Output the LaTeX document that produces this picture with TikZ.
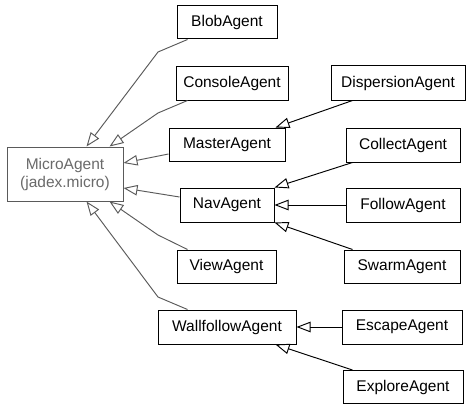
\documentclass[tikz,border=0pt]{standalone}
\usepackage{fontspec}
\setmainfont{Liberation Sans}
\usetikzlibrary{arrows.meta,calc}
\definecolor{edgegray}{HTML}{5A5A5A}
\definecolor{textgray}{HTML}{6A6A6A}
\tikzset{
  cls/.style={draw=black, line width=1pt, fill=white, inner sep=0pt,
    font=\fontsize{15.5}{18}\selectfont, text=black},
  inherit/.style={line width=0.95pt, -{Triangle[open, length=14pt, width=10.5pt]}},
  toroot/.style={inherit, draw=edgegray},
  tochild/.style={inherit, draw=black},
}
\begin{document}
\begin{tikzpicture}[x=1pt, y=-1pt]
\useasboundingbox (0,0) rectangle (466,404);
% base class
\node[cls, draw=edgegray, text=textgray, minimum width=116pt, minimum height=54pt,
  align=center] (micro) at (65,174) {MicroAgent\\(jadex.micro)};
% direct subclasses
\node[cls, minimum width=100pt, minimum height=33pt] (blob) at (227,22.5) {BlobAgent};
\node[cls, minimum width=112pt, minimum height=33pt] (console) at (232,83.5) {ConsoleAgent};
\node[cls, minimum width=116pt, minimum height=33pt] (master) at (227,144.5) {MasterAgent};
\node[cls, minimum width=94pt, minimum height=34pt] (nav) at (227,205) {NavAgent};
\node[cls, minimum width=99pt, minimum height=33pt] (view) at (226.5,266.5) {ViewAgent};
\node[cls, minimum width=138pt, minimum height=34pt] (wall) at (227,327) {WallfollowAgent};
% second level
\node[cls, minimum width=134pt, minimum height=34pt] (disp) at (398,83) {DispersionAgent};
\node[cls, minimum width=114pt, minimum height=34pt] (collect) at (403,145) {CollectAgent};
\node[cls, minimum width=114pt, minimum height=34pt] (follow) at (403,205) {FollowAgent};
\node[cls, minimum width=116pt, minimum height=33pt] (swarm) at (402,266.5) {SwarmAgent};
\node[cls, minimum width=120pt, minimum height=34pt] (escape) at (402,327) {EscapeAgent};
\node[cls, minimum width=120pt, minimum height=33pt] (explore) at (403,387) {ExploreAgent};
% bend points
\coordinate (bblob) at (158,52);
\coordinate (bconsole) at (158,113);
\coordinate (bview) at (158,235);
\coordinate (bwall) at (158,297);
% inheritance from MicroAgent
\draw[toroot] ($(blob.south west)+(11,0)$) -- (bblob) -- ($(micro.north west)+(80,0)$);
\draw[toroot] ($(console.south west)+(12,0)$) -- (bconsole) -- ($(micro.north west)+(103,0)$);
\draw[toroot] ($(master.west)+(0,9.5)$) -- ($(micro.east)+(0,-11)$);
\draw[toroot] ($(nav.west)+(0,-8)$) -- ($(micro.east)+(0,14)$);
\draw[toroot] ($(view.north west)+(11,0)$) -- (bview) -- ($(micro.south west)+(103,0)$);
\draw[toroot] ($(wall.north west)+(30,0)$) -- (bwall) -- ($(micro.south west)+(80,0)$);
% second level inheritance
\draw[tochild] ($(disp.south west)+(22,0)$) -- ($(master.north east)+(-10,0)$);
\draw[tochild] ($(collect.south west)+(7,0)$) -- (nav.north east);
\draw[tochild] (follow.west) -- (nav.east);
\draw[tochild] ($(swarm.north west)+(9,0)$) -- (nav.south east);
\draw[tochild] (escape.west) -- (wall.east);
\draw[tochild] ($(explore.north west)+(10,0)$) -- ($(wall.south east)+(-21,0)$);
\end{tikzpicture}
\end{document}
